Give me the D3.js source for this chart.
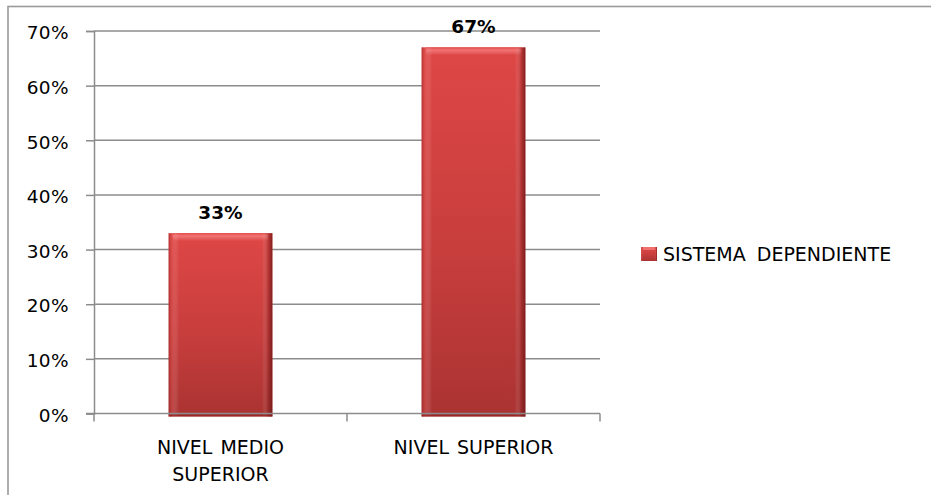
<!DOCTYPE html>
<html>
<head>
<meta charset="utf-8">
<script src="https://cdn.jsdelivr.net/npm/d3@7"></script>
<style>
  html, body { margin: 0; padding: 0; background: #fff; }
  svg { display: block; }
  text { font-family: "DejaVu Sans", "Liberation Sans", sans-serif; fill: #000; }
</style>
</head>
<body>
<svg id="chart" width="931" height="495"></svg>
<script>
// Chart data
const categories = [["NIVEL MEDIO", "SUPERIOR"], ["NIVEL SUPERIOR"]];
const values = [33, 67];
const seriesName = "SISTEMA DEPENDIENTE";
const yTicks = [0, 10, 20, 30, 40, 50, 60, 70];

const FONT = "'DejaVu Sans', sans-serif";
const svg = d3.select("#chart");

// Outer frame of the chart area
svg.append("rect")
  .attr("x", 8).attr("y", 6.5)
  .attr("width", 940).attr("height", 520)
  .attr("fill", "#fff")
  .attr("stroke", "#9a9a9a").attr("stroke-width", 1.6);

const plot = { left: 94, right: 600, top: 31, bottom: 413.5 };

const x = d3.scaleBand()
  .domain(d3.range(values.length))
  .range([plot.left, plot.right])
  .paddingInner(0.59).paddingOuter(0.295);

const xCat = d3.scaleBand()
  .domain(d3.range(values.length))
  .range([plot.left, plot.right]);

const y = d3.scaleLinear().domain([0, 70]).range([plot.bottom, plot.top]);

// Gradients for the bevelled bars
const defs = svg.append("defs");
const vGrad = defs.append("linearGradient").attr("id", "barV")
  .attr("x1", 0).attr("y1", 0).attr("x2", 0).attr("y2", 1);
vGrad.append("stop").attr("offset", "0%").attr("stop-color", "#de4746");
vGrad.append("stop").attr("offset", "55%").attr("stop-color", "#c73e3d");
vGrad.append("stop").attr("offset", "100%").attr("stop-color", "#aa3332");

const hGrad = defs.append("linearGradient").attr("id", "barH")
  .attr("x1", 0).attr("y1", 0).attr("x2", 1).attr("y2", 0);
hGrad.append("stop").attr("offset", "0%").attr("stop-color", "#8e2020").attr("stop-opacity", 0.55);
hGrad.append("stop").attr("offset", "3%").attr("stop-color", "#e25a58").attr("stop-opacity", 0.35);
hGrad.append("stop").attr("offset", "10%").attr("stop-color", "#ffffff").attr("stop-opacity", 0);
hGrad.append("stop").attr("offset", "90%").attr("stop-color", "#ffffff").attr("stop-opacity", 0);
hGrad.append("stop").attr("offset", "96%").attr("stop-color", "#7a1a1a").attr("stop-opacity", 0.35);
hGrad.append("stop").attr("offset", "100%").attr("stop-color", "#6a1515").attr("stop-opacity", 0.8);

const topGrad = defs.append("linearGradient").attr("id", "barTop")
  .attr("x1", 0).attr("y1", 0).attr("x2", 0).attr("y2", 1);
topGrad.append("stop").attr("offset", "0%").attr("stop-color", "#e24c4b");
topGrad.append("stop").attr("offset", "35%").attr("stop-color", "#f27474");
topGrad.append("stop").attr("offset", "100%").attr("stop-color", "#db4645");

// Gridlines
svg.append("g")
  .selectAll("line").data(yTicks.filter(d => d > 0)).join("line")
  .attr("x1", plot.left).attr("x2", plot.right)
  .attr("y1", d => y(d)).attr("y2", d => y(d))
  .attr("stroke", "#8c8c8c").attr("stroke-width", 1.5);

// Y axis
const yAxis = svg.append("g")
  .attr("transform", `translate(${plot.left},0)`)
  .call(d3.axisLeft(y).tickValues(yTicks).tickSize(8).tickPadding(17)
    .tickFormat(d => d + "%"));
yAxis.select(".domain").attr("stroke", "#8c8c8c").attr("stroke-width", 1.5);
yAxis.selectAll(".tick line").attr("stroke", "#8c8c8c").attr("stroke-width", 1.5);
yAxis.selectAll(".tick text")
  .style("font-family", FONT)
  .style("font-size", "18.5px").style("letter-spacing", "0.4px").attr("fill", "#000")
  .attr("dy", "0.42em");

// Bars
const bars = svg.append("g").selectAll("g").data(values).join("g");
const barBottom = plot.bottom + 3;
bars.append("rect")
  .attr("x", (d, i) => x(i)).attr("width", x.bandwidth())
  .attr("y", d => y(d)).attr("height", d => barBottom - y(d))
  .attr("fill", "url(#barV)");
bars.append("rect")
  .attr("x", (d, i) => x(i) + 4).attr("width", x.bandwidth() - 8)
  .attr("y", d => y(d)).attr("height", 8)
  .attr("fill", "url(#barTop)");
bars.append("rect")
  .attr("x", (d, i) => x(i)).attr("width", x.bandwidth())
  .attr("y", d => y(d)).attr("height", d => barBottom - y(d))
  .attr("fill", "url(#barH)");
bars.append("rect")
  .attr("x", (d, i) => x(i)).attr("width", x.bandwidth())
  .attr("y", barBottom - 2).attr("height", 2)
  .attr("fill", "#8a2222").attr("opacity", 0.6);

// X axis line and category separators (drawn over the bar bottoms)
svg.append("line")
  .attr("x1", plot.left - 8).attr("x2", plot.right)
  .attr("y1", plot.bottom).attr("y2", plot.bottom)
  .attr("stroke", "#8c8c8c").attr("stroke-width", 1.5);
svg.append("g")
  .selectAll("line").data(d3.range(values.length + 1)).join("line")
  .attr("x1", i => plot.left + i * xCat.step()).attr("x2", i => plot.left + i * xCat.step())
  .attr("y1", plot.bottom).attr("y2", plot.bottom + 8)
  .attr("stroke", "#8c8c8c").attr("stroke-width", 1.5);

// Category labels
svg.append("g").selectAll("text").data(categories).join("text")
  .attr("x", (d, i) => xCat(i) + xCat.bandwidth() / 2)
  .attr("y", 454)
  .attr("text-anchor", "middle")
  .style("font-size", "19px")
  .style("word-spacing", "2px")
  .each(function (lines) {
    d3.select(this).selectAll("tspan").data(lines).join("tspan")
      .attr("x", d3.select(this).attr("x"))
      .attr("dy", (l, k) => k === 0 ? 0 : 27)
      .text(l => l);
  });

// Value labels
svg.append("g").selectAll("text").data(values).join("text")
  .attr("x", (d, i) => x(i) + x.bandwidth() / 2)
  .attr("y", d => y(d) - 14)
  .attr("text-anchor", "middle")
  .style("font-size", "18.5px").style("font-weight", "bold")
  .text(d => d + "%");

// Legend
const legend = svg.append("g").attr("transform", "translate(641,247)");
legend.append("rect").attr("width", 16).attr("height", 14).attr("fill", "url(#barV)");
legend.append("rect").attr("width", 16).attr("height", 14).attr("fill", "url(#barH)");
legend.append("rect").attr("x", 2).attr("width", 12).attr("height", 3).attr("fill", "#f07070");
legend.append("text").attr("x", 22).attr("y", 14)
  .style("font-size", "19px")
  .style("word-spacing", "5px")
  .text(seriesName);
</script>
</body>
</html>
